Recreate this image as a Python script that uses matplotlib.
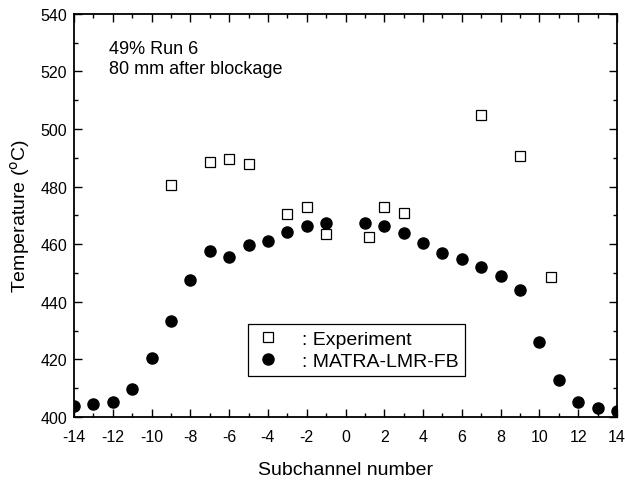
import numpy as np
import matplotlib
matplotlib.use("Agg")
import matplotlib.pyplot as plt
from matplotlib.ticker import MultipleLocator

plt.rcParams["font.family"] = ["Liberation Sans", "DejaVu Sans"]
plt.rcParams["axes.unicode_minus"] = False

# measured experiment (open squares)
exp_x = [-9, -7, -6, -5, -3, -2, -1, 1.2, 2, 3, 7, 9, 10.6]
exp_T = [480.5, 488.5, 489.5, 488, 470.5, 473, 463.5, 462.5, 473, 471, 505, 490.5, 448.5]

# MATRA-LMR-FB prediction (filled circles)
sim_x = [-14, -13, -12, -11, -10, -9, -8, -7, -6, -5, -4, -3, -2, -1,
         1, 2, 3, 4, 5, 6, 7, 8, 9, 10, 11, 12, 13, 14]
sim_T = [403.8, 404.5, 405.2, 409.8, 420.5, 433.5, 447.5, 457.8, 455.5, 459.8, 461.0, 464.3, 466.3, 467.3,
         467.3, 466.2, 464.0, 460.5, 457.0, 455.0, 452.2, 449.0, 444.0, 426.0, 413.0, 405.2, 403.2, 402.0]

fig = plt.figure(figsize=(6.25, 4.81), dpi=100)
ax = fig.add_axes([0.1184, 0.131, 0.8688, 0.838])

ax.plot(exp_x, exp_T, "s", ms=6.5, mfc="white", mec="black", mew=0.9, ls="none",
        label=": Experiment")
ax.plot(sim_x, sim_T, "o", ms=8, color="black", ls="none", label=": MATRA-LMR-FB")

ax.set_xlim(-14, 14)
ax.set_ylim(400, 540)
ax.xaxis.set_major_locator(MultipleLocator(2))
ax.xaxis.set_minor_locator(MultipleLocator(1))
ax.yaxis.set_major_locator(MultipleLocator(20))
ax.yaxis.set_minor_locator(MultipleLocator(10))
ax.tick_params(which="both", direction="in", top=True, right=True, labelsize=11.5, width=1.0)
ax.tick_params(which="major", length=6, pad=5)
ax.tick_params(axis="x", which="major", pad=9)
ax.tick_params(which="minor", length=3)
for s in ax.spines.values():
    s.set_linewidth(1.3)

ax.set_xlabel("Subchannel number", fontsize=14, labelpad=12)
ax.set_ylabel("Temperature ($^{\\rm o}$C)", fontsize=14, labelpad=6)

ax.text(0.065, 0.935, "49% Run 6\n80 mm after blockage", transform=ax.transAxes,
        fontsize=13, va="top", ha="left", linespacing=1.25)

leg = ax.legend(loc="lower left", bbox_to_anchor=(0.320, 0.102), fontsize=14,
                handlelength=1.5, handletextpad=1.0, borderpad=0.3, labelspacing=0.25,
                borderaxespad=0, fancybox=False, framealpha=1, edgecolor="black")
leg.get_frame().set_linewidth(0.9)

fig.savefig("out.png", dpi=100)
